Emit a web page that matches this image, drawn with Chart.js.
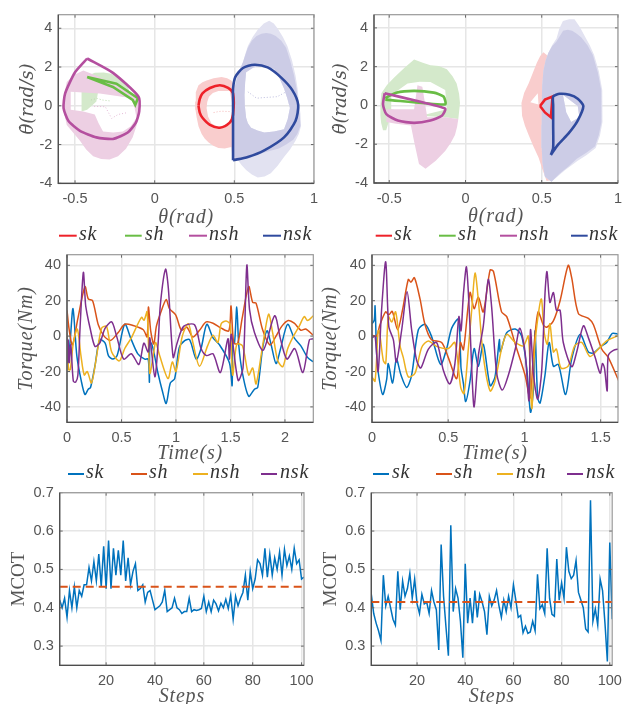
<!DOCTYPE html>
<html><head><meta charset="utf-8">
<script src="https://cdn.jsdelivr.net/npm/chart.js@4/dist/chart.umd.min.js"></script>
<style>html,body{margin:0;padding:0;background:#fff;overflow:hidden}canvas{position:absolute;display:block}</style>
</head><body>
<script>
const seriesNames=['sk','sh','nsh','nsk'];
const phaseXTicks=[-0.5,0,0.5,1], phaseYTicks=[-4,-2,0,2,4];
const torqueYTicks=[-40,-20,0,20,40], timeTicksA=[0,0.5,1,1.5,2], timeTicksB=[0,0.5,1,1.5];
const stepTicks=[20,40,60,80,100], mcotTicks=[0.3,0.4,0.5,0.6,0.7];

/* phase portraits, panel A: [theta, thetaDot] */
const aLoopSk=[[.275,0],[.283,.35],[.3,.64],[.347,.92],[.409,1.06],[.461,.92],[.492,.64],[.492,-.45],[.471,-.87],[.409,-1.13],[.347,-.99],[.3,-.62],[.283,-.35],[.275,0]];
const aLoopSh=[[-.424,1.48],[-.262,.97],[-.138,.3],[-.122,.05],[-.105,.39],[-.24,1.14],[-.424,1.48]];
const aLoopNsh=[[-.424,2.44],[-.262,1.7],[-.101,.47],[-.097,-.29],[-.118,-.87],[-.169,-1.38],[-.262,-1.71],[-.366,-1.63],[-.469,-1.29],[-.541,-.79],[-.572,-.12],[-.562,.64],[-.5,1.73],[-.424,2.44]];
const aLoopNsk=[[.492,-2.81],[.492,-1],[.492,.3],[.492,.89],[.506,1.48],[.554,1.95],[.626,2.12],[.709,1.98],[.791,1.48],[.864,.81],[.901,.05],[.884,-.79],[.812,-1.63],[.688,-2.3],[.585,-2.64],[.492,-2.81]];
const aCloudSkOuter=[[.254,.22],[.258,.7],[.275,1.06],[.3,1.22],[.326,1.31],[.37,1.42],[.42,1.48],[.455,1.42],[.481,1.31],[.5,1.05],[.512,.72],[.512,-1.13],[.574,-2.8],[.49,-2.8],[.481,-2.13],[.44,-2.2],[.40,-2.18],[.365,-2.05],[.337,-1.88],[.315,-1.7],[.295,-1.46],[.275,-1.05],[.264,-.62],[.256,-.2]];
const aCloudSkHole=[[.326,-.12],[.33,.2],[.341,.47],[.365,.66],[.40,.76],[.471,.76],[.488,.05],[.481,-.79],[.45,-1.0],[.42,-1.09],[.385,-1.03],[.357,-.92],[.335,-.55]];
const aCloudShOuter=[[-.459,-.29],[-.459,1.31],[-.42,1.55],[-.376,1.7],[-.32,1.72],[-.273,1.65],[-.22,1.4],[-.169,1.06],[-.149,.39],[-.283,.64],[-.355,.72],[-.366,.22],[-.395,0],[-.424,-.2]];
const aCloudNshOuter=[[-.572,.05],[-.566,.65],[-.552,1.23],[-.505,1.6],[-.448,1.82],[-.365,1.55],[-.283,1.23],[-.2,.85],[-.107,.47],[-.097,-.45],[-.115,-1.05],[-.138,-1.63],[-.18,-2.22],[-.23,-2.6],[-.283,-2.77],[-.336,-2.75],[-.386,-2.61],[-.43,-2.25],[-.469,-1.8],[-.51,-1.4],[-.552,-.99],[-.566,-.45]];
const aCloudNshHole=[[-.527,.72],[-.345,.64],[-.138,.39],[-.114,-.62],[-.15,-1.05],[-.2,-1.33],[-.26,-1.38],[-.324,-1.33],[-.352,-.9],[-.376,-.45],[-.448,-.29],[-.527,-.2]];
const aCloudNskSparse=[[.492,.22],[.498,.8],[.512,1.31],[.53,1.8],[.554,2.24],[.57,2.7],[.585,3.08],[.615,3.55],[.647,3.92],[.685,4.25],[.719,4.39],[.748,4.25],[.771,4],[.805,3.55],[.833,3.08],[.862,2.35],[.884,1.56],[.897,.9],[.905,.22],[.915,-.4],[.919,-1.04],[.905,-1.45],[.884,-1.8],[.85,-2.25],[.812,-2.64],[.772,-3.1],[.729,-3.48],[.69,-3.65],[.647,-3.7],[.61,-3.55],[.574,-3.31],[.545,-3.05],[.523,-2.81],[.492,-2.64]];
const aCloudNskOuter=[[.492,.22],[.498,.8],[.512,1.31],[.53,1.8],[.554,2.24],[.57,2.65],[.585,3],[.61,3.35],[.64,3.6],[.67,3.72],[.70,3.75],[.73,3.72],[.76,3.6],[.795,3.35],[.825,3],[.852,2.3],[.875,1.56],[.89,.9],[.9,.22],[.91,-.4],[.915,-1.04],[.895,-1.45],[.87,-1.75],[.825,-2],[.78,-2.2],[.715,-2.35],[.65,-2.5],[.59,-2.62],[.53,-2.75],[.492,-2.64]];
const aCloudNskHole=[[.574,1.73],[.62,1.98],[.667,2.07],[.71,2.02],[.75,1.9],[.785,1.4],[.812,.89],[.832,.4],[.849,-.12],[.835,-.7],[.812,-1.21],[.75,-1.33],[.688,-1.38],[.645,-1.28],[.605,-1.13],[.585,-.9],[.574,-.62],[.566,0],[.564,.55],[.568,1.2]];
const aTraceSk=[[.37,-.35],[.4,-.3],[.42,-.28],[.47,-.3]];
const aTraceSh=[[-.40,.3],[-.36,.38],[-.33,.3],[-.28,.25]];
const aTraceNsh=[[-.38,-.03],[-.31,-.05],[-.27,-.65],[-.23,-.45],[-.17,-.35]];
const aTraceNsk=[[.585,.72],[.64,.39],[.68,.42],[.77,.47],[.82,.7]];

/* phase portraits, panel B */
const bLoopSk=[[.489,-.03],[.521,.3],[.571,.46],[.56,-.61],[.521,-.36],[.489,-.03]];
const bLoopSh=[[-.526,.3],[-.133,.05],[-.144,.46],[-.208,.66],[-.337,.75],[-.455,.66],[-.526,.38]];
const bLoopNsh=[[-.53,.63],[-.33,.25],[-.133,-.17],[-.155,-.53],[-.23,-.78],[-.337,-.9],[-.444,-.78],[-.519,-.45],[-.541,.05],[-.53,.63]];
const bLoopNsk=[[.56,-2.55],[.575,-2.19],[.575,-1],[.575,0],[.575,.46],[.618,.6],[.682,.55],[.736,.35],[.773,-.03],[.736,-.78],[.676,-1.44],[.607,-2.02],[.56,-2.55]];
const bCloudSkOuter=[[.367,.13],[.385,.65],[.414,1.13],[.44,1.65],[.468,2.2],[.49,2.55],[.511,2.74],[.543,2.54],[.564,.13],[.564,-3.85],[.532,-3.9],[.505,-3.3],[.479,-2.69],[.445,-2.1],[.414,-1.53],[.39,-1.05],[.371,-.53]];
const bCloudSkHole=[[.425,.17],[.479,.05],[.474,.63]];
const bCloudShOuter=[[-.558,-.53],[-.558,.05],[-.552,.63],[-.515,1.05],[-.466,1.46],[-.4,1.95],[-.337,2.37],[-.28,2.2],[-.23,2.07],[-.175,2.03],[-.122,1.87],[-.085,1.5],[-.058,1.13],[-.042,.6],[-.036,.13],[-.047,-.7],[-.133,-.61],[-.3,-.53],[-.487,-.4],[-.52,-1.28],[-.541,-1.28],[-.553,-.9]];
const bCloudShHole=[[-.487,.46],[-.487,-.2],[-.294,-.53],[-.122,-.2],[-.133,.8],[-.23,1.21],[-.3,1.22],[-.38,1.13],[-.44,.8]];
const bCloudNshOuter=[[-.519,-.2],[-.423,-.2],[-.337,-.2],[-.315,1.04],[-.283,.96],[-.251,-.61],[-.133,-.61],[-.047,-.7],[-.055,-1.1],[-.069,-1.53],[-.098,-1.95],[-.133,-2.35],[-.195,-2.85],[-.262,-3.27],[-.305,-3.02],[-.337,-1.86],[-.358,-1.03],[-.455,-.95],[-.519,-.86]];
const bCloudNskSparse=[[.5,.13],[.503,1],[.511,1.79],[.525,2.3],[.543,2.7],[.568,3.1],[.597,3.45],[.615,3.95],[.639,4.36],[.68,4.45],[.715,4.44],[.75,4.05],[.779,3.62],[.815,3.1],[.843,2.62],[.875,1.75],[.897,.8],[.9,0],[.897,-.86],[.882,-1.55],[.854,-2.19],[.795,-2.55],[.736,-2.85],[.65,-3.35],[.564,-3.93],[.521,-3.68],[.505,-3],[.5,-2.19],[.498,-1]];
const bCloudNskOuter=[[.5,.13],[.503,1],[.511,1.79],[.525,2.3],[.543,2.7],[.568,3.05],[.597,3.3],[.62,3.6],[.64,3.85],[.67,3.9],[.70,3.85],[.73,3.7],[.76,3.5],[.8,3.1],[.835,2.6],[.868,1.7],[.89,.8],[.893,0],[.89,-.86],[.875,-1.5],[.85,-2.1],[.79,-2.45],[.73,-2.75],[.675,-3.15],[.62,-3.5],[.564,-3.93],[.521,-3.68],[.505,-3],[.5,-2.19],[.498,-1]];
const bCloudNskHole=[[.639,.55],[.661,-.36],[.693,-.86],[.747,-.61],[.736,-.03],[.682,.3]];

/* joint torque, panel A: [t, Nm] */
const aTorqueSk=[[0,-2],[.01,-15],[.03,-2],[.055,15.5],[.09,-11],[.13,-25],[.165,-33],[.195,-30],[.216,-29],[.256,-17],[.3,-2],[.35,-4],[.38,-11],[.42,-13],[.46,-11],[.53,6.7],[.59,-2],[.65,-10],[.713,-13],[.745,-13],[.756,-26],[.76,-4],[.775,-4],[.8,-10],[.835,-21],[.875,-31],[.91,-38],[.948,-26.5],[.988,-24],[1.03,-6.5],[1.08,-2.5],[1.125,-2],[1.186,-13],[1.23,-7],[1.283,6.7],[1.34,-1],[1.4,-5],[1.49,-15],[1.515,-28],[1.52,-2],[1.537,-4],[1.558,16.4],[1.576,-5],[1.61,-21],[1.667,-34],[1.72,-30],[1.75,-29],[1.795,-7],[1.835,3],[1.87,-4],[1.918,-15.5],[1.96,-7],[2.024,6.7],[2.085,-1],[2.146,-5.5],[2.207,-12],[2.26,-14.5]];
const aTorqueSh=[[0,14.6],[.02,3.6],[.05,-5],[.1,10],[.165,28],[.195,21],[.235,20],[.287,6.4],[.34,0],[.4,-2.4],[.47,2],[.53,6.7],[.607,6],[.7,3.6],[.735,-.4],[.747,16.4],[.768,3],[.796,-4.5],[.82,5.5],[.857,12.8],[.91,20.6],[.94,15.5],[.997,12],[1.05,3.3],[1.1,5],[1.155,-.5],[1.216,3.3],[1.277,8],[1.34,7.3],[1.415,4.5],[1.485,3],[1.505,17],[1.53,-4],[1.567,-4],[1.607,10],[1.667,28],[1.704,19],[1.735,18.6],[1.795,3.6],[1.863,-5],[1.918,0],[1.97,5.5],[2.03,8.8],[2.085,7.3],[2.146,3.3],[2.19,4],[2.26,.5]];
const aTorqueNsh=[[0,1.8],[.015,-19],[.03,-19],[.058,-4],[.095,4],[.128,-11],[.158,-22],[.186,-20],[.225,-26.5],[.27,-12],[.317,4.5],[.363,5.5],[.41,-9],[.48,-14],[.53,-7],[.59,-1],[.683,10.6],[.707,9],[.735,13.7],[.76,-21],[.796,-9],[.814,-3.6],[.85,-11],[.927,-24],[.966,-14.6],[1,-20],[1.058,0],[1.113,7],[1.155,-3.6],[1.216,-17],[1.29,-5.5],[1.34,.5],[1.384,-3.6],[1.415,7],[1.46,8.6],[1.497,6.4],[1.52,-22],[1.558,-4.6],[1.61,-5.5],[1.667,-22],[1.704,-18],[1.735,-27],[1.795,-5.5],[1.85,12.4],[1.887,1.8],[1.933,-13.7],[1.98,-17.3],[2.024,-7.3],[2.07,-1],[2.13,5.5],[2.177,11],[2.207,8.8],[2.26,11.5]];
const aTorqueNsk=[[0,-1],[.005,-15],[.012,-2],[.02,-15],[.035,-5],[.058,-25.5],[.08,-26],[.1,-22],[.12,5],[.15,36],[.17,18],[.186,12],[.21,5],[.256,-5.8],[.3,-4],[.35,4.5],[.41,8],[.455,0],[.52,-13],[.59,-10],[.66,-16],[.705,-4],[.745,-9],[.76,-1],[.806,-23],[.836,-4],[.857,18],[.904,37.8],[.93,27],[.974,-12],[1.01,-4],[1.07,5.5],[1.17,6.4],[1.23,-7],[1.28,-11],[1.34,-10],[1.407,-20.6],[1.477,-1.5],[1.49,-13],[1.508,1],[1.57,-25],[1.615,-18],[1.65,40],[1.675,15],[1.72,2],[1.8,-8],[1.905,11.5],[1.96,-2],[2.018,-13],[2.09,-7],[2.164,-20.6],[2.225,-2],[2.26,-1.5]];

/* joint torque, panel B */
const bTorqueSk=[[0,7],[.015,9],[.02,17],[.03,-9],[.04,-20],[.07,-33],[.096,-24.6],[.107,-15.5],[.135,-26.5],[.16,-13],[.19,-22],[.228,-29],[.26,-22],[.304,3.6],[.348,6.7],[.39,0],[.45,-16],[.49,-7],[.523,4.5],[.566,9.5],[.582,-13],[.584,-18],[.6,-27],[.615,-37],[.643,-25.5],[.67,-7],[.698,-17],[.73,-4.6],[.775,-28],[.807,-23],[.836,-2],[.842,-9],[.884,2],[.94,4],[.982,0],[1.015,-18],[1.04,-43],[1.06,-29],[1.07,3],[1.087,-35],[1.103,-37.8],[1.135,-22],[1.162,-3.6],[1.19,-17],[1.223,-16],[1.27,-33],[1.31,-13],[1.365,1],[1.42,-9],[1.453,-9.5],[1.507,-5.5],[1.54,-3.6],[1.577,1.5],[1.62,1]];
const bTorqueSh=[[0,.5],[.03,0],[.052,6.4],[.09,13.7],[.11,12],[.133,14],[.168,3.6],[.2,14.6],[.238,32],[.256,30.5],[.278,33],[.315,21],[.348,6.4],[.39,-2],[.457,-3.6],[.5,-12],[.556,-24],[.58,-3.6],[.6,-7.7],[.643,24.6],[.67,15.5],[.698,22],[.73,13.7],[.775,37.4],[.797,36.5],[.85,13.7],[.884,11],[.94,-4.6],[1.004,-22],[1.037,-35],[1.06,-9],[1.09,13.7],[1.124,6.4],[1.146,5],[1.19,8.6],[1.234,20],[1.287,40],[1.31,33],[1.354,12.8],[1.42,10],[1.453,6.4],[1.507,-7.3],[1.55,-12],[1.62,-25.5]];
const bTorqueNsh=[[0,-23],[.02,-25.5],[.04,3],[.048,3],[.074,-13.7],[.09,-15.5],[.107,11],[.13,8],[.155,13.7],[.184,-5.5],[.205,-12],[.238,-23],[.282,-21],[.326,-6.4],[.37,-2.7],[.424,-5.8],[.5,-7],[.544,-3.6],[.582,-29],[.604,-32.5],[.632,-7.3],[.654,14.6],[.676,35.6],[.698,20],[.73,-11],[.775,-31],[.807,-25.5],[.85,-7.3],[.884,1],[.94,-3.6],[.993,-5.5],[1.026,0],[1.048,-41],[1.07,-3.6],[1.11,21],[1.13,1.8],[1.15,-4.6],[1.167,7],[1.19,-9],[1.21,-7.3],[1.24,-18],[1.287,-17],[1.33,-5.5],[1.376,-3.6],[1.43,-11.5],[1.486,-7.3],[1.54,-2.7],[1.62,.5]];
const bTorqueNsk=[[0,-1],[.02,0],[.04,-20],[.063,15],[.09,42],[.11,5.5],[.14,-2],[.16,-14.6],[.195,3.6],[.23,25],[.26,3.6],[.293,-13.7],[.32,-18],[.37,-7.3],[.424,-3.6],[.467,-19],[.51,-27],[.544,-15.5],[.57,11],[.584,3],[.6,24],[.62,39],[.643,5.5],[.654,-18],[.67,-40],[.698,-11],[.73,5.5],[.763,32],[.785,16.4],[.818,-21],[.855,-30.5],[.895,-22],[.94,-7.3],[.97,4.5],[1.004,-9],[1.03,-36.5],[1.04,3.6],[1.06,-22],[1.087,-35.6],[1.113,-20],[1.135,24],[1.148,36.5],[1.167,19],[1.19,24.6],[1.21,14.6],[1.234,14.6],[1.255,-3.6],[1.31,-17.3],[1.343,-9],[1.387,5.8],[1.42,-1],[1.464,-12],[1.497,-21],[1.512,-15.5],[1.525,-18],[1.543,-31],[1.55,-11],[1.584,-8],[1.62,-7.3]];

/* mechanical cost of transport per step */
const aMcot=[.42,.40,.425,.375,.445,.40,.455,.40,.445,.43,.46,.46,.505,.47,.52,.47,.54,.455,.56,.45,.575,.45,.555,.485,.55,.485,.575,.47,.53,.46,.495,.515,.445,.45,.46,.415,.44,.445,.42,.395,.40,.405,.415,.445,.39,.395,.40,.425,.40,.395,.385,.39,.39,.425,.39,.395,.393,.395,.398,.43,.39,.415,.39,.42,.41,.392,.412,.40,.422,.398,.433,.37,.43,.405,.425,.44,.485,.42,.495,.45,.475,.525,.515,.485,.555,.48,.54,.485,.53,.50,.545,.485,.552,.51,.535,.50,.555,.515,.525,.475,.48];
const bMcot=[.435,.385,.36,.34,.315,.485,.405,.43,.40,.37,.355,.495,.395,.47,.43,.45,.49,.425,.475,.41,.385,.435,.41,.415,.385,.445,.415,.395,.29,.565,.43,.35,.275,.615,.39,.45,.425,.365,.27,.515,.36,.425,.36,.445,.375,.435,.415,.39,.33,.43,.405,.42,.445,.405,.375,.42,.39,.43,.40,.46,.42,.375,.38,.335,.352,.333,.337,.365,.34,.487,.398,.408,.385,.555,.425,.383,.378,.527,.42,.465,.425,.558,.495,.476,.485,.523,.44,.42,.40,.345,.337,.68,.365,.397,.355,.475,.445,.36,.26,.57,.37];
const aMcotMean=[.455,.455], bMcotMean=[.415,.415];
const stepRange=[1,101];

const pts=a=>a.map(p=>({x:p[0],y:p[1]}));
const signedArea=a=>a.reduce((s,p,i)=>{const q=a[(i+1)%a.length];return s+p[0]*q[1]-q[0]*p[1];},0);
/* Closed fill region (optional hole). Chart.js clips a 'shape' fill between the x of the first and last
   point, so the path runs from the leftmost point and ends at the rightmost one; the hole winds the other way. */
function region(outer,hole){
  const i=outer.reduce((m,p,k)=>p[0]<outer[m][0]?k:m,0);
  const path=outer.slice(i).concat(outer.slice(0,i)); path.push(path[0]);
  if(hole){
    const h=(signedArea(hole)>0)===(signedArea(outer)>0)?hole.slice().reverse():hole;
    path.push(...h,h[0],path[0]);
  }
  path.push(outer.reduce((m,p)=>p[0]>m[0]?p:m,outer[0]));
  return pts(path);
}
const C={red:'#EE2129',green:'#69BD45',mag:'#B44F9F',blue:'#2F4A9E',
  cRed:'#F9CDCD',cGreen:'#D4E9CB',cMag:'#EDCFE3',cBlue:'#CCCCE6',cBlueS:'#E2E2F1',
  mb:'#0072BD',mo:'#D95319',my:'#EDB120',mp:'#7E2F8E',ink:'#505050'};
const cloud=(label,data,color,order)=>({label,data,showLine:true,fill:'shape',backgroundColor:color,borderWidth:0,pointRadius:0,tension:0,order});
const loop=(label,arr,color,order,tension)=>({label,data:pts(arr),showLine:true,fill:false,borderColor:color,backgroundColor:color,borderWidth:2.6,pointRadius:0,tension,order,borderJoinStyle:'miter'});
const trace=(label,arr,color,order)=>({label,data:pts(arr),showLine:true,fill:false,borderColor:color,borderWidth:1,borderDash:[1,2],pointRadius:0,tension:0,order});
const line=(label,arr,color,order,width,tension)=>({label,data:pts(arr),showLine:true,fill:false,borderColor:color,backgroundColor:color,borderWidth:width||1.5,pointRadius:0,tension:tension===undefined?.28:tension,order});

const chrome={id:'chrome',
  afterDatasetsDraw(ch){
    const a=ch.chartArea,c=ch.ctx,x=ch.scales.x,y=ch.scales.y;
    c.save();c.lineWidth=1;c.strokeStyle='#666';
    c.beginPath();
    for(const t of x.ticks){const p=x.getPixelForValue(t.value);c.moveTo(p,a.bottom);c.lineTo(p,a.bottom-3);c.moveTo(p,a.top);c.lineTo(p,a.top+3);}
    for(const t of y.ticks){const p=y.getPixelForValue(t.value);c.moveTo(a.left,p);c.lineTo(a.left+3,p);c.moveTo(a.right,p);c.lineTo(a.right-3,p);}
    c.stroke();
    c.strokeStyle='#999';c.lineWidth=1.2;c.strokeRect(a.left,a.top,a.right-a.left,a.bottom-a.top);
    c.strokeStyle='#4d4d4d';c.lineWidth=1.3;c.beginPath();c.moveTo(a.left,a.top);c.lineTo(a.left,a.bottom);c.lineTo(a.right,a.bottom);c.stroke();
    c.restore();
  },
  afterDraw(ch,args,o){
    if(!o.at)return;
    const c=ch.ctx;c.save();
    c.textBaseline='middle';c.font='italic 20px "Liberation Serif"';c.letterSpacing='0.8px';c.lineWidth=2;
    seriesNames.forEach((n,i)=>{
      const ds=ch.data.datasets.find(d=>d.label===n),[a,b,t]=o.at[i];
      c.strokeStyle=ds.borderColor;c.beginPath();c.moveTo(a,o.y);c.lineTo(b,o.y);c.stroke();
      c.fillStyle='#333';c.fillText(n,t,o.y-1);
    });
    c.letterSpacing='0px';c.restore();
  }};

function panel(geo,cfg){
  const cv=document.createElement('canvas');
  cv.width=geo.w;cv.height=geo.h;cv.style.left=geo.x0+'px';cv.style.top=geo.y0+'px';
  document.body.appendChild(cv);
  const lh=24;
  const yW=geo.l-geo.x0, xH=geo.xTitle-geo.b+lh/2;
  const axis=(extra,title,italic,size,ticks,pad,titlePad,family)=>Object.assign({type:'linear',
    grid:{color:'#E6E6E6',lineWidth:1.5,drawTicks:false},border:{display:false},
    ticks:{autoSkip:false,maxRotation:0,padding:pad,color:'#555',font:{family:'"Liberation Sans"',size:14.5},callback:v=>String(v)},
    title:{display:true,text:title,color:'#555',padding:titlePad,font:{family:family||'"Liberation Serif"',style:italic?'italic':'normal',size,lineHeight:lh/size}},
    afterBuildTicks:s=>{s.ticks=ticks.map(v=>({value:v}));}
  },extra);
  new Chart(cv,{type:'scatter',data:{datasets:cfg.datasets},
    plugins:[chrome],
    options:{responsive:false,animation:false,devicePixelRatio:1,
      layout:{padding:{left:0,top:geo.t-geo.y0,right:geo.x0+geo.w-geo.r,bottom:geo.y0+geo.h-geo.b-xH}},
      scales:{
        x:axis({min:cfg.x[0],max:cfg.x[1],afterFit:s=>{s.height=xH;const d=s.drawTitle;s.drawTitle=function(){s.ctx.letterSpacing=cfg.xs;d.call(s);s.ctx.letterSpacing='0px';};}},cfg.xTitle,true,20,cfg.xTicks,7,0),
        y:axis({min:cfg.y[0],max:cfg.y[1],afterFit:s=>{s.width=yW;const d=s.drawTitle;s.drawTitle=function(){s.ctx.letterSpacing=cfg.ys;d.call(s);s.ctx.letterSpacing='0px';};}},cfg.yTitle,cfg.yItalic,cfg.ySize||20,cfg.yTicks,6,{top:geo.yTitle-geo.x0-lh/2,bottom:0},cfg.yFamily)
      },
      plugins:{legend:{display:false},tooltip:{enabled:false},
        chrome:cfg.legend?{at:cfg.legend.map(r=>r.map(v=>v-geo.x0)),y:cfg.legendY-geo.y0}:{}}
    }});
}

panel({x0:0,y0:0,w:325,h:245,l:58.3,t:11,r:317,b:183.3,xTitle:218,yTitle:28},{
  x:[-0.605,1],y:[-4,4.7],xTicks:phaseXTicks,yTicks:phaseYTicks,xTitle:'θ(rad)',yTitle:'θ̇(rad/s)',yItalic:true,ySize:18,yFamily:'"DejaVu Serif"',xs:'0.8px',ys:'0px',
  legend:[[59,76.7,79],[125,141.7,145],[189,207,209],[263,281,283]],legendY:235.7,
  datasets:[
    loop('nsk',aLoopNsk,C.blue,1,.25),loop('sk',aLoopSk,C.red,2,.3),loop('nsh',aLoopNsh,C.mag,3,.2),loop('sh',aLoopSh,C.green,4,0),
    trace('nsk trace',aTraceNsk,'#B9B9DC',5),trace('sk trace',aTraceSk,'#F4B5B5',5),trace('sh trace',aTraceSh,'#BBDCAD',5),trace('nsh trace',aTraceNsh,'#E3B8D5',5),
    cloud('nsk cloud',region(aCloudNskOuter,aCloudNskHole),C.cBlue,6),cloud('nsk sparse',region(aCloudNskSparse,aCloudNskHole),C.cBlueS,7),
    cloud('sk cloud',region(aCloudSkOuter,aCloudSkHole),C.cRed,8),
    cloud('nsh cloud',region(aCloudNshOuter,aCloudNshHole),C.cMag,9),cloud('sh cloud',region(aCloudShOuter),C.cGreen,10)
  ]});
panel({x0:315,y0:0,w:314,h:245,l:374,t:8.7,r:622.3,b:183,xTitle:217,yTitle:341},{
  x:[-0.6,1],y:[-4,4.68],xTicks:phaseXTicks,yTicks:phaseYTicks,xTitle:'θ(rad)',yTitle:'θ̇(rad/s)',yItalic:true,ySize:18,yFamily:'"DejaVu Serif"',xs:'0.8px',ys:'0px',
  legend:[[375.7,392,394],[439,455.7,458],[500,517,519],[571,587.7,589]],legendY:235.7,
  datasets:[
    loop('nsk',bLoopNsk,C.blue,1,.2),loop('sk',bLoopSk,C.red,2,0),loop('nsh',bLoopNsh,C.mag,3,.2),loop('sh',bLoopSh,C.green,4,.2),
    cloud('nsk cloud',region(bCloudNskOuter,bCloudNskHole),C.cBlue,6),cloud('nsk sparse',region(bCloudNskSparse,bCloudNskHole),C.cBlueS,7),
    cloud('sk cloud',region(bCloudSkOuter,bCloudSkHole),C.cRed,8),
    cloud('nsh cloud',region(bCloudNshOuter),C.cMag,9),cloud('sh cloud',region(bCloudShOuter,bCloudShHole),C.cGreen,10)
  ]});
panel({x0:0,y0:240,w:325,h:245,l:67,t:249.3,r:313.3,b:422.3,xTitle:454,yTitle:27},{
  x:[0,2.26],y:[-48.7,46],xTicks:timeTicksA,yTicks:torqueYTicks,xTitle:'Time(s)',yTitle:'Torque(Nm)',yItalic:true,xs:'0.8px',ys:'0.8px',
  legend:[[68,84,86],[131,147,149],[193,208,210],[261,277,280]],legendY:474,
  datasets:[line('nsk',aTorqueNsk,C.mp,1),line('nsh',aTorqueNsh,C.my,2),line('sh',aTorqueSh,C.mo,3),line('sk',aTorqueSk,C.mb,4)]});
panel({x0:315,y0:240,w:314,h:245,l:372,t:249.3,r:618,b:422.3,xTitle:454,yTitle:331},{
  x:[0,1.614],y:[-48.7,46],xTicks:timeTicksB,yTicks:torqueYTicks,xTitle:'Time(s)',yTitle:'Torque(Nm)',yItalic:true,xs:'0.8px',ys:'0.8px',
  legend:[[373,389,392],[436,452,454],[497,513,516],[567,583,586]],legendY:474,
  datasets:[line('nsk',bTorqueNsk,C.mp,1),line('nsh',bTorqueNsh,C.my,2),line('sh',bTorqueSh,C.mo,3),line('sk',bTorqueSk,C.mb,4)]});
const stepped=a=>a.map((v,i)=>[i+1,v]);
panel({x0:0,y0:478,w:325,h:240,l:59.7,t:492.7,r:304,b:665.3,xTitle:697,yTitle:19},{
  x:stepRange,y:[.25,.7],xTicks:stepTicks,yTicks:mcotTicks,xTitle:'Steps',yTitle:'MCOT',yItalic:false,ySize:19,xs:'0.8px',ys:'0px',
  datasets:[
    {label:'mean',data:pts([[stepRange[0],aMcotMean[0]],[stepRange[1],aMcotMean[1]]]),showLine:true,borderColor:C.mo,borderWidth:2,borderDash:[8,5],pointRadius:0,order:1},
    line('sk',stepped(aMcot),C.mb,2,1.5,0)]});
panel({x0:315,y0:478,w:314,h:240,l:371.3,t:492.7,r:616.3,b:665.3,xTitle:697,yTitle:331},{
  x:stepRange,y:[.25,.7],xTicks:stepTicks,yTicks:mcotTicks,xTitle:'Steps',yTitle:'MCOT',yItalic:false,ySize:19,xs:'0.8px',ys:'0px',
  datasets:[
    {label:'mean',data:pts([[stepRange[0],bMcotMean[0]],[stepRange[1],bMcotMean[1]]]),showLine:true,borderColor:C.mo,borderWidth:2,borderDash:[8,5],pointRadius:0,order:1},
    line('sk',stepped(bMcot),C.mb,2,1.5,0)]});
</script>
</body></html>
